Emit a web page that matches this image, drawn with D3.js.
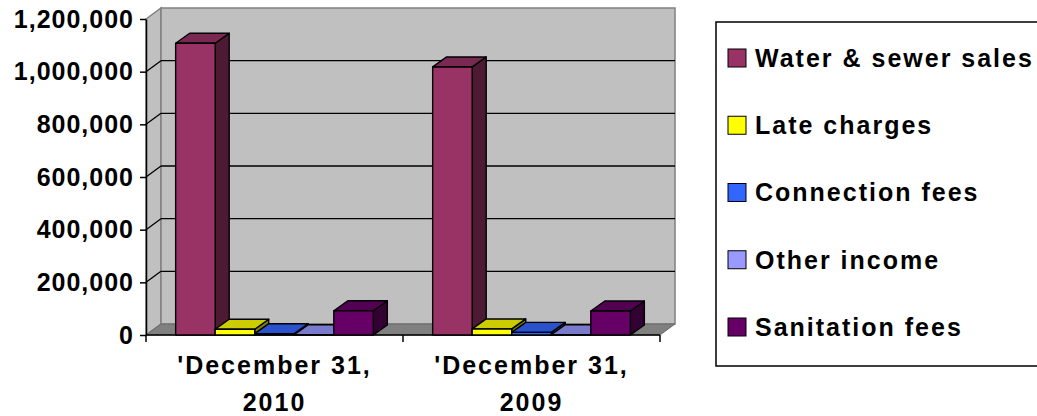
<!DOCTYPE html>
<html>
<head>
<meta charset="utf-8">
<script src="https://cdn.jsdelivr.net/npm/d3@7"></script>
<style>
  body { margin: 0; background: #fff; }
  svg { display: block; font-family: "Liberation Sans", Arial, sans-serif; font-weight: bold; }
</style>
</head>
<body>
<div id="chart"></div>
<script>
// data
const categories = ["'December 31, 2010", "'December 31, 2009"];
const seriesNames = ["Water & sewer sales", "Late charges", "Connection fees", "Other income", "Sanitation fees"];
const waterSewerSales = [1108000, 1018000];
const lateCharges = [22000, 23000];
const connectionFees = [5000, 10000];
const otherIncome = [1000, 1000];
const sanitationFees = [92000, 91000];
const yTicks = [0, 200000, 400000, 600000, 800000, 1000000, 1200000];

const seriesValues = [waterSewerSales, lateCharges, connectionFees, otherIncome, sanitationFees];
const colors = ["#993366", "#ffff00", "#3366ff", "#9999ff", "#660066"];

const width = 1037, height = 416;
const plotLeft = 146, plotRight = 660, plotTop = 19, plotBottom = 335;
// 3d depth of walls and of bars
const dx = 15, dy = -11;
const bdx = 14, bdy = -10;

const svg = d3.select("#chart").append("svg")
    .attr("width", width)
    .attr("height", height);

const y = d3.scaleLinear().domain([0, 1200000]).range([plotBottom, plotTop]);
const x0 = d3.scaleBand().domain(categories).range([plotLeft, plotRight]).paddingInner(0).paddingOuter(0);
const x1 = d3.scaleBand().domain(seriesNames).range([0, x0.bandwidth()]).paddingInner(0).paddingOuter(0.75);

const shade = (c, k) => { const r = d3.rgb(c); return d3.rgb(r.r * k, r.g * k, r.b * k); };
const pts = arr => arr.map(p => p.join(",")).join(" ");

// walls and floor
svg.append("polygon")
    .attr("points", pts([[plotLeft, y(1200000)], [plotLeft + dx, y(1200000) + dy], [plotLeft + dx, y(0) + dy], [plotLeft, y(0)]]))
    .attr("fill", "#c0c0c0").attr("stroke", "#808080").attr("stroke-width", 1.5);
svg.append("rect")
    .attr("x", plotLeft + dx).attr("y", y(1200000) + dy)
    .attr("width", plotRight - plotLeft).attr("height", y(0) - y(1200000))
    .attr("fill", "#c0c0c0").attr("stroke", "#808080").attr("stroke-width", 1.5);
svg.append("polygon")
    .attr("points", pts([[plotLeft, y(0)], [plotLeft + dx, y(0) + dy], [plotRight + dx, y(0) + dy], [plotRight, y(0)]]))
    .attr("fill", "#808080").attr("stroke", "#6a6a6a").attr("stroke-width", 1);

// gridlines
const grid = yTicks.filter(t => t > 0 && t < 1200000);
svg.selectAll(".gside").data(grid).join("line")
    .attr("class", "gside")
    .attr("x1", plotLeft).attr("y1", d => y(d))
    .attr("x2", plotLeft + dx).attr("y2", d => y(d) + dy)
    .attr("stroke", "#000").attr("stroke-width", 1.3);
svg.selectAll(".gback").data(grid).join("line")
    .attr("class", "gback")
    .attr("x1", plotLeft + dx).attr("y1", d => y(d) + dy)
    .attr("x2", plotRight + dx).attr("y2", d => y(d) + dy)
    .attr("stroke", "#000").attr("stroke-width", 1.3);

// x axis line and boundary ticks
svg.append("line")
    .attr("x1", plotLeft).attr("x2", plotRight).attr("y1", y(0)).attr("y2", y(0))
    .attr("stroke", "#000").attr("stroke-width", 1.5);
const bounds = [x0.range()[0]].concat(categories.map(c => x0(c) + x0.bandwidth()));
svg.selectAll(".xtick").data(bounds).join("line")
    .attr("class", "xtick")
    .attr("x1", d => d).attr("x2", d => d)
    .attr("y1", y(0)).attr("y2", y(0) + 7)
    .attr("stroke", "#000").attr("stroke-width", 1.5);

// bars, drawn left to right so fronts cover the sides of previous bars
const bars = [];
categories.forEach((c, i) => {
    seriesNames.forEach((s, j) => {
        bars.push({ cat: c, key: s, value: seriesValues[j][i], color: colors[j] });
    });
});

const barG = svg.append("g");
bars.forEach(d => {
    const bx = x0(d.cat) + x1(d.key);
    const w = x1.bandwidth();
    const yt = y(d.value), yb = y(0);
    const g = barG.append("g")
        .attr("stroke", "#000").attr("stroke-width", 1.4).attr("stroke-linejoin", "round");
    g.append("polygon")
        .attr("points", pts([[bx + w, yt], [bx + w + bdx, yt + bdy], [bx + w + bdx, yb + bdy], [bx + w, yb]]))
        .attr("fill", shade(d.color, 0.5));
    g.append("polygon")
        .attr("points", pts([[bx, yt], [bx + bdx, yt + bdy], [bx + w + bdx, yt + bdy], [bx + w, yt]]))
        .attr("fill", shade(d.color, 0.8));
    g.append("rect")
        .attr("x", bx).attr("y", yt)
        .attr("width", w).attr("height", yb - yt)
        .attr("fill", d.color);
});

// y axis
const yAxis = svg.append("g")
    .attr("transform", `translate(${plotLeft},0)`)
    .call(d3.axisLeft(y).tickValues(yTicks).tickSize(6).tickSizeOuter(0).tickPadding(6).tickFormat(d3.format(",")));
yAxis.select(".domain").attr("stroke", "#000").attr("stroke-width", 1.5);
yAxis.selectAll(".tick line").attr("stroke", "#000").attr("stroke-width", 1.5);
yAxis.selectAll(".tick text")
    .attr("fill", "#000")
    .style("font-size", "25px")
    .style("font-family", "'Liberation Sans', Arial, sans-serif")
    .style("font-weight", "bold")
    .style("letter-spacing", "1px");

// category labels, two lines
const xl = svg.selectAll(".xlabel").data(categories).join("text")
    .attr("class", "xlabel")
    .attr("text-anchor", "middle")
    .style("font-size", "25px")
    .style("letter-spacing", "2px")
    .attr("fill", "#000");
xl.each(function(c) {
    const parts = c.split(", ");
    const cx = x0(c) + x0.bandwidth() / 2;
    d3.select(this).append("tspan").attr("x", cx).attr("y", 374).text(parts[0] + ",");
    d3.select(this).append("tspan").attr("x", cx).attr("y", 411).text(parts[1]);
});

// legend
const legend = svg.append("g");
legend.append("rect")
    .attr("x", 716).attr("y", 22).attr("width", 340).attr("height", 344)
    .attr("fill", "#fff").attr("stroke", "#000").attr("stroke-width", 1.5);
const items = legend.selectAll(".item").data(seriesNames).join("g")
    .attr("class", "item")
    .attr("transform", (d, i) => `translate(728,${58 + i * 67.25})`);
items.append("rect")
    .attr("x", 0).attr("y", -9).attr("width", 18).attr("height", 18)
    .attr("fill", (d, i) => colors[i]).attr("stroke", "#000").attr("stroke-width", 1);
items.append("text")
    .attr("x", 27).attr("y", 0).attr("dy", "0.35em")
    .style("font-size", "25px")
    .style("letter-spacing", "2px")
    .attr("fill", "#000")
    .text(d => d);
</script>
</body>
</html>
